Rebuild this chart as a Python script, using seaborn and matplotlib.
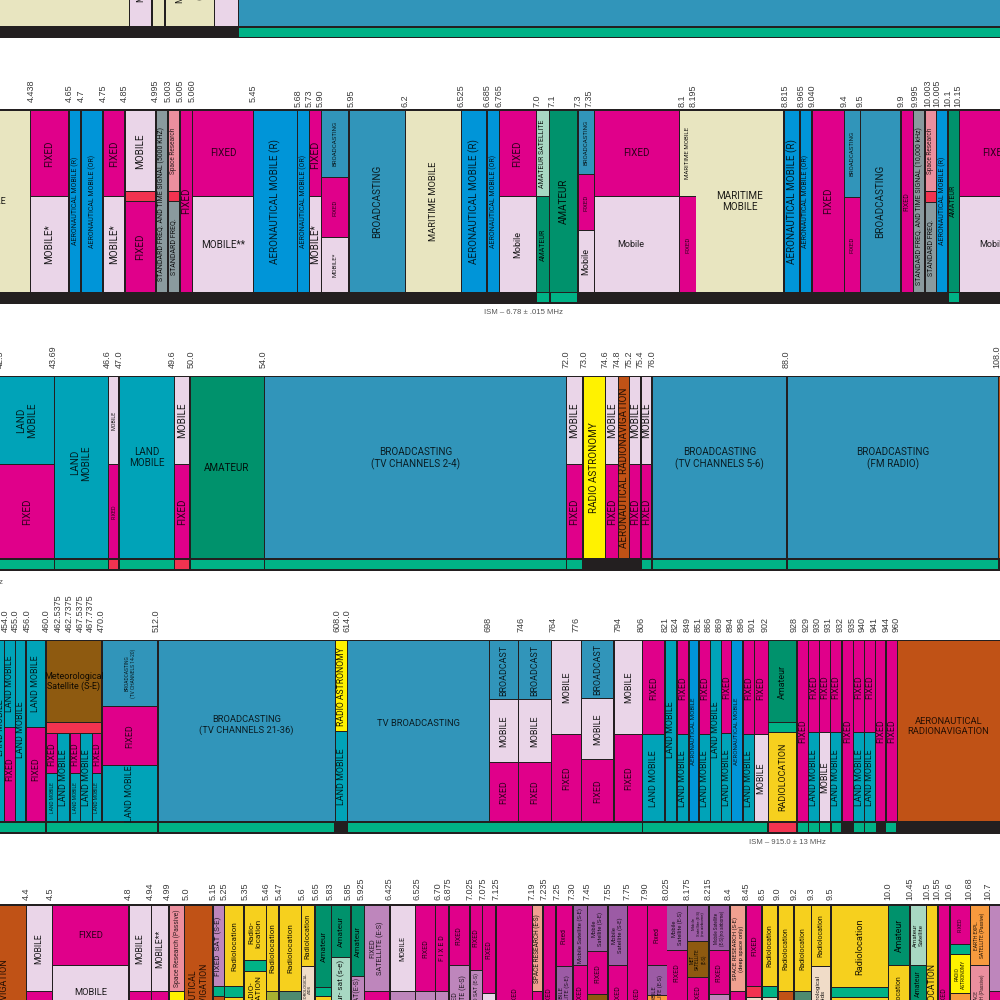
import matplotlib
matplotlib.use("Agg")
import matplotlib.pyplot as plt
import seaborn as sns
import matplotlib.colors as mc

sns.set_theme(style="white")
plt.rcParams['font.family'] = ['Roboto', 'Liberation Sans', 'DejaVu Sans']
TICK_FONT = ['Liberation Sans', 'DejaVu Sans']
SCALE = 0.82

COL = dict(fix='#E0008A', mob='#EAD5E8', aer='#0095D8', mar='#E8E5C0', bro='#3195BA', lan='#00A3B8',
           ama='#00926C', ams='#A8D8C3', grn='#00B286', red='#F23350', gry='#8A9A9E', spr='#EB8F9E',
           rad='#FFF200', nav='#C05216', met='#8E5A10', loc='#F6D01E', fst='#BE86BC', mst='#9C5BA5',
           ora='#F79A3E', sal='#F0A090', tan='#F0DCC8', oli='#A8B030', ggr='#4E8B70', blk='#231F20')

def c(svc, label, end, size=11, rot=90, dx=0, dy=0, top=None):
    return (svc, label, end, size, rot, dx, dy, top)

# ---- band 1 (cropped, only its bottom shows)
band1_cols = [
    (0, 128.5, [c('mar', '', 26)]),
    (130, 151, [c('mob', 'MOBILE', 26, dy=-26, dx=0.5)]),
    (153, 164, [c('mar', '', 26)]),
    (166, 214, [c('mar', 'MARITIME\n\n(GMDSS)', 26, dy=-30, size=11)]),
    (215, 238, [c('mob', '', 26)]),
    (239, 1000, [c('bro', '', 26)]),
]
band1_foot = [(239, 1000, 'grn')]

# ---- band 2: 4.438 - 10.15 MHz
band2_ticks = [31, 69, 81, 103, 124.5, 155.5, 168, 180, 192, 253.5, 298, 309.5, 320.5, 351, 405.5, 461.5, 487, 499,
               536.7, 551.7, 578, 589, 681.7, 692.7, 785, 801, 811.7, 844, 860, 901, 915, 927.7, 936.7, 947.7, 957.7]
band2_labels = ['4.438', '4.65', '4.7', '4.75', '4.85', '4.995', '5.003', '5.005', '5.060', '5.45', '5.68', '5.73', '5.90',
                '5.95', '6.2', '6.525', '6.685', '6.765', '7.0', '7.1', '7.3', '7.35', '8.1', '8.195', '8.815', '8.965',
                '9.040', '9.4', '9.5', '9.9', '9.995', '10.003', '10.005', '10.1', '10.15']
band2_raised = 10
B2 = 196
band2_cols = [
    (0, 29.5, [c('mar', 'MARITIME MOBILE', 291.7, rot=0, dx=-47, size=11)]),
    (31, 68, [c('fix', 'FIXED', B2, size=12), c('mob', 'MOBILE*', 291.7, size=12)]),
    (70, 80, [c('aer', 'AERONAUTICAL MOBILE (R)', 291.7, size=8.6)]),
    (82, 102, [c('aer', 'AERONAUTICAL MOBILE (OR)', 291.7, size=8.6)]),
    (103.5, 124, [c('fix', 'FIXED', B2, size=12), c('mob', 'MOBILE*', 291.7, size=12)]),
    (125.5, 155, [c('mob', 'MOBILE', 191, size=12), c('red', '', 201), c('fix', 'FIXED', 291.7, size=12)]),
    (156.5, 167, [c('gry', 'STANDARD FREQ. AND TIME SIGNAL (5000 KHZ)', 291.7, size=8.6, dy=3)]),
    (168.5, 179, [c('spr', 'Space Research', 191, size=8), c('red', '', 201), c('gry', 'STANDARD FREQ.', 291.7, size=8.5)]),
    (180.5, 191.5, [c('fix', 'FIXED', 291.7, size=12)]),
    (193, 253, [c('fix', 'FIXED', B2, size=12, rot=0), c('mob', 'MOBILE**', 291.7, size=12, rot=0)]),
    (254, 297, [c('aer', 'AERONAUTICAL MOBILE (R)', 291.7, size=12)]),
    (298, 309, [c('aer', 'AERONAUTICAL MOBILE (OR)', 291.7, size=8.6)]),
    (310, 321, [c('fix', 'FIXED', B2, size=13, dy=1), c('mob', 'MOBILE*', 291.7, size=12)]),
    (322, 348, [c('bro', 'BROADCASTING', 177, size=7.5), c('fix', 'FIXED', 237, size=7.5), c('mob', 'MOBILE*', 291.7, size=7.5)]),
    (349.5, 405, [c('bro', 'BROADCASTING', 291.7, size=12)]),
    (406, 461, [c('mar', 'MARITIME MOBILE', 291.7, size=11.5)]),
    (462, 486, [c('aer', 'AERONAUTICAL MOBILE (R)', 291.7, size=12)]),
    (487.5, 499, [c('aer', 'AERONAUTICAL MOBILE (OR)', 291.7, size=8.6)]),
    (499.5, 535.5, [c('fix', 'FIXED', B2, size=12), c('mob', 'Mobile', 291.7, size=11)]),
    (537, 549, [c('ams', 'AMATEUR SATELLITE', B2, size=8.5), c('ama', 'AMATEUR', 291.7, size=8.5)]),
    (550, 577, [c('ama', 'AMATEUR', 291.7, size=12)]),
    (578.5, 593.5, [c('bro', 'BROADCASTING', 174, size=7.5), c('fix', 'FIXED', 230, size=7.5), c('mob', 'Mobile', 291.7, size=11)]),
    (594.5, 679, [c('fix', 'FIXED', B2, size=12, rot=0), c('mob', 'Mobile', 291.7, size=11, rot=0, dx=-6)]),
    (680, 695.5, [c('mar', 'MARITIME MOBILE', B2, size=7.5), c('fix', 'FIXED', 291.7, size=7.5)]),
    (696, 783, [c('mar', 'MARITIME\nMOBILE', 291.7, size=12, rot=0)]),
    (784.5, 799, [c('aer', 'AERONAUTICAL MOBILE (R)', 291.7, size=12)]),
    (800.5, 811, [c('aer', 'AERONAUTICAL MOBILE (OR)', 291.7, size=8.6)]),
    (812.5, 843.5, [c('fix', 'FIXED', 291.7, size=12)]),
    (845, 859.5, [c('bro', 'BROADCASTING', 197, size=7.5), c('fix', 'FIXED', 291.7, size=7.5)]),
    (861, 900, [c('bro', 'BROADCASTING', 291.7, size=12)]),
    (901.5, 913, [c('fix', 'FIXED', 291.7, size=8.5)]),
    (914, 924, [c('gry', 'STANDARD FREQ. AND TIME SIGNAL (10,000 kHz)', 291.7, size=8.6, dy=5)]),
    (925.5, 936, [c('spr', 'Space Research', 191, size=8), c('red', '', 202), c('gry', 'STANDARD FREQ.', 291.7, size=8.5)]),
    (937, 947, [c('aer', 'AERONAUTICAL MOBILE (R)', 291.7, size=8.5)]),
    (948.5, 958.5, [c('ama', 'AMATEUR', 291.7, size=8.5)]),
    (959.5, 1001, [c('fix', 'FIXED', B2, size=12, rot=0, dx=15), c('mob', 'Mobile', 291.7, size=11, rot=0, dx=12)]),
]
band2_foot = [(537, 549, 'grn'), (550.5, 577, 'grn'), (948.5, 958.5, 'grn')]

# ---- band 3: 42 - 108 MHz
band3_ticks = [0, 53, 107.5, 119, 172.7, 190.7, 263.5, 566, 584, 605, 617, 629, 640, 652, 786, 996.7]
band3_labels = ['42.5', '43.69', '46.6', '47.0', '49.6', '50.0', '54.0', '72.0', '73.0', '74.6', '74.8', '75.2', '75.4',
                '76.0', '88.0', '108.0']
B3 = 464
band3_cols = [
    (0, 53.5, [c('lan', 'LAND\nMOBILE', B3, size=12), c('fix', 'FIXED', 558.3, size=12)]),
    (54.5, 107.5, [c('lan', 'LAND\nMOBILE', 558.3, size=12, dy=-5)]),
    (109, 118, [c('mob', 'MOBILE', B3, size=6.5), c('fix', 'FIXED', 558.3, size=6.5)]),
    (120, 173.5, [c('lan', 'LAND\nMOBILE', 558.3, size=12, rot=0, dy=-10)]),
    (175, 189, [c('mob', 'MOBILE', B3, size=12), c('fix', 'FIXED', 558.3, size=12)]),
    (190.5, 263.5, [c('ama', 'AMATEUR', 558.3, size=12, rot=0)]),
    (265, 565.7, [c('bro', 'BROADCASTING\n(TV CHANNELS 2-4)', 558.3, size=12, rot=0, dy=-9)]),
    (567, 582, [c('mob', 'MOBILE', B3, size=12), c('fix', 'FIXED', 558.3, size=12)]),
    (583.5, 604.5, [c('rad', 'RADIO ASTRONOMY', 558.3, size=12)]),
    (606, 617.5, [c('mob', 'MOBILE', B3, size=12), c('fix', 'FIXED', 558.3, size=12)]),
    (619, 628.5, [c('nav', 'AERONAUTICAL RADIONAVIGATION', 558.3, size=12)]),
    (630, 640, [c('mob', 'MOBILE', B3, size=12), c('fix', 'FIXED', 558.3, size=12)]),
    (641.5, 651, [c('mob', 'MOBILE', B3, size=12), c('fix', 'FIXED', 558.3, size=12)]),
    (652.5, 786, [c('bro', 'BROADCASTING\n(TV CHANNELS 5-6)', 558.3, size=12, rot=0, dy=-9)]),
    (787.5, 998, [c('bro', 'BROADCASTING\n(FM RADIO)', 558.3, size=12, rot=0, dy=-9)]),
    (999, 1001, [c('nav', '', 558.3)]),
]
band3_foot = [(0, 53.5, 'grn'), (54.5, 107.5, 'grn'), (109, 118, 'red'), (120, 173.5, 'grn'), (175, 189, 'red'),
              (190.5, 263.5, 'grn'), (265, 565.5, 'grn'), (567, 582, 'grn'), (641.5, 651, 'grn'), (652.5, 786, 'grn'),
              (787.5, 998, 'grn')]

# ---- band 4: 454 - 960 MHz
band4_ticks = [5, 15.7, 27, 46.7, 58, 69, 80, 90.7, 101.7, 155.7, 336.7, 347, 488, 521, 553, 575.7, 618, 640.7, 665, 675,
               687, 697.7, 708, 719, 730, 740.7, 752, 765, 794, 805.7, 816.7, 828, 840, 851.7, 862, 874, 885.7, 896]
band4_labels = ['454.0', '455.0', '456.0', '460.0', '462.5375', '462.7375', '467.5375', '467.7375', '470.0', '512.0',
                '608.0', '614.0', '698', '746', '764', '776', '794', '806', '821', '824', '849', '851', '866', '869',
                '894', '896', '901', '902', '928', '929', '930', '931', '932', '935', '940', '941', '944', '960']
E4 = 821.3
M4 = 734
N4 = 732
LM = 10.8
band4_cols = [
    (0, 4, [c('lan', 'LAND MOBILE', E4, size=LM, dx=-1, dy=-4)]),
    (5, 15, [c('lan', 'LAND MOBILE', 727, size=LM), c('fix', 'FIXED', E4, size=LM, dy=-6)]),
    (16, 25, [c('lan', 'LAND MOBILE', E4, size=LM, dy=-2)]),
    (26.5, 45, [c('lan', 'LAND MOBILE', 727, size=LM), c('fix', 'FIXED', E4, size=LM, dy=-6)]),
    (47, 101, [c('met', 'Meteorological\nSatellite (S-E)', 721.5, size=11, rot=0), c('red', '', 733)]),
    (47, 57, [c('fix', 'FIXED', 773, size=LM), c('lan', 'LAND MOBILE', E4, size=6)], 734.3),
    (58, 69, [c('lan', 'LAND MOBILE', E4, size=LM)], 734.3),
    (70.5, 80, [c('fix', 'FIXED', 773, size=LM), c('lan', 'LAND MOBILE', E4, size=6)], 734.3),
    (81, 92, [c('lan', 'LAND MOBILE', E4, size=LM)], 734.3),
    (93, 101, [c('fix', 'FIXED', 773, size=LM), c('lan', 'LAND MOBILE', E4, size=6)], 734.3),
    (103, 157, [c('bro', 'BROADCASTING\n(TV CHANNELS 14-20)', 705.5, size=6), c('fix', 'FIXED', 764.5, size=LM),
                c('lan', 'LAND MOBILE', E4, size=LM)]),
    (158.5, 334.5, [c('bro', 'BROADCASTING\n(TV CHANNELS 21-36)', E4, size=11.5, rot=0, dy=-6)]),
    (336, 347, [c('rad', 'RADIO ASTRONOMY', 731, size=10.5), c('lan', 'LAND MOBILE', E4, size=LM)]),
    (348, 489, [c('bro', 'TV BROADCASTING', E4, size=11.5, rot=0, dy=-8)]),
    (490, 518, [c('bro', 'BROADCAST', 699, size=LM), c('mob', 'MOBILE', 762, size=LM), c('fix', 'FIXED', E4, size=LM)]),
    (519, 551, [c('bro', 'BROADCAST', 699, size=LM), c('mob', 'MOBILE', 762, size=LM), c('fix', 'FIXED', E4, size=LM)]),
    (552, 580.5, [c('mob', 'MOBILE', M4, size=LM), c('fix', 'FIXED', E4, size=LM)]),
    (582, 613, [c('bro', 'BROADCAST', 698, size=LM), c('mob', 'MOBILE', 759, size=LM), c('fix', 'FIXED', E4, size=LM)]),
    (614.5, 642, [c('mob', 'MOBILE', M4, size=LM), c('fix', 'FIXED', E4, size=LM)]),
    (643, 664, [c('fix', 'FIXED', M4, size=LM), c('lan', 'LAND MOBILE', E4, size=LM)]),
    (665.5, 676, [c('lan', 'LAND MOBILE', E4, size=LM, dy=-2)]),
    (677.5, 688, [c('fix', 'FIXED', M4, size=LM), c('lan', 'LAND MOBILE', E4, size=LM)]),
    (689.5, 698, [c('aer', 'AERONAUTICAL MOBILE', E4, size=7.5)]),
    (699.5, 709.5, [c('fix', 'FIXED', M4, size=LM), c('lan', 'LAND MOBILE', E4, size=LM)]),
    (711, 720.5, [c('lan', 'LAND MOBILE', E4, size=LM, dy=-2)]),
    (722, 730.5, [c('fix', 'FIXED', 733, size=LM), c('lan', 'LAND MOBILE', E4, size=LM)]),
    (732, 742, [c('aer', 'AERONAUTICAL MOBILE', E4, size=7.5)]),
    (743.5, 754, [c('fix', 'FIXED', M4, size=LM), c('lan', 'LAND MOBILE', E4, size=LM)]),
    (755, 767.5, [c('fix', 'FIXED', M4, size=LM), c('mob', 'MOBILE', E4, size=LM)]),
    (768.5, 796, [c('ama', 'Amateur', 722, size=LM), c('grn', '', 732), c('loc', 'RADIOLOCATION', E4, size=LM)]),
    (797.5, 808, [c('fix', 'FIXED', E4, size=LM)]),
    (808.5, 818.5, [c('fix', 'FIXED', N4, size=LM), c('lan', 'LAND MOBILE', E4, size=LM)]),
    (820, 830, [c('fix', 'FIXED', N4, size=LM), c('mob', 'MOBILE', E4, size=LM)]),
    (831, 841, [c('fix', 'FIXED', N4, size=LM), c('lan', 'LAND MOBILE', E4, size=LM)]),
    (842.5, 852.5, [c('fix', 'FIXED', E4, size=LM)]),
    (854, 864, [c('fix', 'FIXED', N4, size=LM), c('lan', 'LAND MOBILE', E4, size=LM)]),
    (865, 875, [c('fix', 'FIXED', N4, size=LM), c('lan', 'LAND MOBILE', E4, size=LM)]),
    (876, 885, [c('fix', 'FIXED', E4, size=LM)]),
    (887, 896.5, [c('fix', 'FIXED', E4, size=LM)]),
    (898, 1001, [c('nav', 'AERONAUTICAL\nRADIONAVIGATION', E4, size=11.5, rot=0, dy=-5, dx=-1)]),
]
band4_foot = [(0, 45, 'grn'), (47, 157, 'grn'), (159, 334, 'grn'), (348, 641.7, 'grn'), (643, 767, 'grn'), (768.5, 796, 'red'),
              (797.5, 807.5, 'grn'), (808.5, 818.5, 'grn'), (820, 830, 'grn'), (831.5, 841, 'grn'), (854, 864, 'grn'),
              (865, 875.5, 'grn'), (886, 896, 'grn')]

# ---- band 5: 4.4 - 10.7 GHz
band5_ticks = [26.7, 50.7, 128, 150, 167.7, 185.7, 213, 224, 245, 265.7, 279, 301.7, 316, 330, 348, 360.7, 389, 416.7, 437.7,
               448, 470, 482.7, 495.7, 531.7, 544, 556.7, 572, 586.7, 608, 626.7, 645, 666, 687, 707.7, 728, 745.7, 761.7,
               777, 794, 811, 830, 887.7, 910, 926.7, 937, 949, 969, 988]
band5_labels = ['4.4', '4.5', '4.8', '4.94', '4.99', '5.0', '5.15', '5.25', '5.35', '5.46', '5.47', '5.6', '5.65', '5.83',
                '5.85', '5.925', '6.425', '6.525', '6.70', '6.875', '7.025', '7.075', '7.125', '7.19', '7.235', '7.25',
                '7.30', '7.45', '7.55', '7.75', '7.90', '8.025', '8.175', '8.215', '8.4', '8.45', '8.5', '9.0', '9.2',
                '9.3', '9.5', '10.0', '10.45', '10.5', '10.55', '10.6', '10.68', '10.7']
E5 = 1003
R5 = 9.9
band5_cols = [
    (0, 26, [c('nav', 'RADIONAVIGATION', E5, size=11, dx=-9, top=958)]),
    (27, 51.5, [c('mob', 'MOBILE', 991, size=10.6), c('fix', '', E5)]),
    (53, 128, [c('fix', 'FIXED', 965, size=11.5, rot=0), c('mob', 'MOBILE', 1019, size=11.5, rot=0)]),
    (129.5, 150.5, [c('mob', 'MOBILE', 991, size=10.6), c('fix', '', E5)]),
    (152, 168, [c('mob', 'MOBILE**', 991, size=10.6), c('fix', '', E5)]),
    (170, 183.5, [c('spr', 'Space Research (Passive)', 991, size=8.2), c('rad', '', E5)]),
    (185, 212, [c('nav', 'AERONAUTICAL\nRADIONAVIGATION', E5, size=10.6, top=963)]),
    (213.5, 223.5, [c('fst', 'FIXED  SAT (S-E)', 986, size=10), c('grn', '', 996), c('nav', '', E5)]),
    (225, 243, [c('loc', 'Radiolocation', 986, size=R5), c('grn', '', 997), c('loc', '', E5)]),
    (244.5, 265.5, [c('loc', 'Radio-\nlocation', 960, size=R5), c('grn', '', 971), c('loc', 'RADIO-\nLOCATION', E5, size=R5, top=975)]),
    (267, 277.5, [c('loc', 'Radiolocation', 991, size=R5), c('oli', '', E5)]),
    (279.5, 301, [c('loc', 'Radiolocation', 991, size=R5), c('ggr', '', E5)]),
    (302, 314, [c('loc', 'Radiolocation', 966, size=9), c('tan', 'METEOROLOGICAL\nAIDS', E5, size=5, top=972)]),
    (316, 331, [c('ama', 'Amateur', 987, size=R5), c('grn', '', 996), c('loc', '', E5)]),
    (332, 350, [c('ama', 'Amateur', 957, size=R5), c('ams', 'Amateur- sat (s-e)', E5, size=R5, top=960)]),
    (351.5, 363.5, [c('ama', 'Amateur', 976, size=R5), c('fst', 'FIXED SAT(E-S)', E5, size=8.5, top=978)]),
    (365, 389, [c('fst', 'FIXED\nSATELLITE (E-S)', 991, size=9), c('fix', '', E5)]),
    (390.5, 415, [c('mob', 'MOBILE', 991, size=8.6), c('fst', '', E5)]),
    (416, 435, [c('fix', 'FIXED', 991, size=8.6), c('fst', '', E5)]),
    (436, 448, [c('fix', 'F I X E D', 991, size=8.6), c('fst', '', E5)]),
    (449.5, 469, [c('fix', 'FIXED', 965, size=8.6), c('fst', 'FIXED\nSATELLITE (E-S)', E5, size=8.6, top=975)]),
    (470.5, 482, [c('fix', 'FIXED', 970, size=8.6), c('fst', 'FIXED SAT (E-S)', E5, size=6.5, top=973)]),
    (483, 495, [c('fix', 'FIXED', 993, size=8.6), c('mob', '', E5)]),
    (497, 532, [c('fix', 'FIXED', E5, size=8.6, top=987)]),
    (533, 542, [c('sal', 'SPACE RESEARCH (E-S)', 991, size=8), c('fix', '', E5)]),
    (543.5, 555, [c('fix', 'FIXED', E5, size=8.6, top=987)]),
    (556.5, 572, [c('fix', 'Fixed', 966, size=8.2), c('mst', 'MOBILE\nSATELLITE (S-E)', E5, size=7.2, top=975)]),
    (573.5, 586.5, [c('mst', 'Mobile Satellite (S-E)', 965, size=7.2), c('fix', 'FIXED', E5, size=8.6, top=985)]),
    (588, 607, [c('mst', 'Mobile\nSatellite (S-E)', 951, size=7), c('fix', 'FIXED', 994, size=8.6), c('met', '', E5)]),
    (608.5, 626.5, [c('mst', 'Mobile\nSatellite (S-E)', 965, size=7.2), c('fix', 'FIXED', E5, size=8.6, top=985)]),
    (627.5, 646.5, [c('fix', 'FIXED', E5, size=8.6, top=987)]),
    (647.5, 666.5, [c('fix', 'Fixed', 965, size=8.2), c('mst', 'MOBILE\nSATELLITE (E-S)', 995, size=7, top=975), c('ora', '', E5)]),
    (667, 687, [c('mst', 'Mobile\nSatellite (E-S)', 950, size=7), c('fix', 'FIXED', E5, size=8.6, top=963)]),
    (688, 708, [c('mst', 'Mobile\nSatellite (E-S)\n(no airborne)', 941, size=5.2), c('met', 'MET\nSATELLITE\n(E-S)', 977, size=5.5),
                c('fix', 'FIXED', E5, size=8.6, top=985)]),
    (709.5, 729, [c('mst', 'Mobile Satellite\n(E-S)(no airborne)', 950, size=5.5), c('fix', 'FIXED', 994, size=8.6), c('fst', '', E5)]),
    (731, 745, [c('sal', 'SPACE RESEARCH (S-E)\n(deep space only)', 991, size=7.2), c('fix', '', E5)]),
    (747, 761, [c('fix', 'FIXED', 986, size=9.5), c('red', '', 997), c('tan', '', E5)]),
    (762.5, 777, [c('loc', 'Radiolocation', 986, size=8.5), c('grn', '', 997), c('tan', '', E5)]),
    (778.5, 793, [c('loc', 'Radiolocation', 991, size=8.5), c('nav', '', E5)]),
    (794.5, 811, [c('loc', 'Radiolocation', 991, size=8.5), c('ggr', '', E5)]),
    (812, 830, [c('loc', 'Radiolocation', 966, size=8.5), c('tan', 'Meteorological\nAids', E5, size=7.5, top=975)]),
    (831.5, 888, [c('loc', 'Radiolocation', 987, size=11.5), c('grn', '', 997), c('loc', '', E5)]),
    (889, 909, [c('ama', 'Amateur', 965, size=10.6), c('loc', 'Radiolocation', E5, size=8.5, top=975)]),
    (910.5, 925.5, [c('ams', 'Amateur\nSatellite', 965, size=7.5), c('ama', 'Amateur', E5, size=8.5, top=970)]),
    (927, 937, [c('loc', 'RADIOLOCATION', E5, size=10.6, top=963)]),
    (938.5, 949, [c('fix', 'FIXED', E5, size=8.6, top=987)]),
    (950.5, 970, [c('fix', 'FIXED', 944, size=6.5), c('grn', '', 954), c('rad', 'RADIO\nASTRONOMY', 993, size=6), c('ora', '', E5)]),
    (971, 988.5, [c('ora', 'EARTH EXPL.\nSATELLITE (Passive)', 965, size=6), c('spr', 'SPACE\nRESEARCH (Passive)', E5, size=6, top=975)]),
    (990, 1001, [c('fst', '', 991), c('fix', '', E5)]),
]

FIG = 1000.0
fig = plt.figure(figsize=(10, 10), dpi=100, facecolor='white')

def text_color(svc):
    rgb = mc.to_rgb(COL[svc])
    keep = 0.2 if svc in ('fix', 'aer', 'lan', 'bro', 'spr', 'nav', 'mst', 'fst') else 0.12
    return tuple(v * keep for v in rgb)

def draw_band(top, bottom, first, foot_top, foot_end, cols, foot, ticks=None, labels=None, pad=3, raised=0):
    ax = fig.add_axes([0, 1 - bottom / FIG, 1, (bottom - top) / FIG])
    ax.set_xlim(0, 1000)
    ax.set_ylim(bottom, top)
    ax.set_facecolor(COL['blk'])
    for s in ax.spines.values():
        s.set_visible(False)
    ax.set_yticks([])
    if ticks:
        ax.xaxis.tick_top()
        ax.set_xticks(ticks, labels, rotation=90, fontsize=6.5, color='#3c3c3c', family=TICK_FONT)
        ax.tick_params(axis='x', length=0, pad=pad * 0.72)
        for i, t in enumerate(ax.xaxis.get_major_ticks()):
            if i < raised:
                t.set_pad((pad + 5) * 0.72)
    else:
        ax.set_xticks([])
    for col in cols:
        x0, x1, stack = col[:3]
        y = col[3] if len(col) > 3 else first
        for svc, label, end, size, rot, dx, dy, ttop in stack:
            ax.bar(x0, end - y, width=x1 - x0, bottom=y, align='edge', color=COL[svc], linewidth=0)
            if label:
                ty = ttop if ttop is not None else (y + end) / 2 + dy
                ax.text((x0 + x1) / 2 + dx, ty, label, rotation=rot, ha='center',
                        va='top' if ttop is not None else 'center',
                        fontsize=size * SCALE * 0.72, color=text_color(svc), linespacing=1.15, clip_on=False)
            y = end + 1.3
    for x0, x1, svc in foot:
        ax.bar(x0, foot_end - foot_top, width=x1 - x0, bottom=foot_top, align='edge', color=COL[svc], linewidth=0)
    return ax

ax1 = draw_band(-2, 38, -2, 27.7, 36.7, band1_cols, band1_foot)
ax2 = draw_band(109, 303.5, 110.7, 293.3, 301.7, band2_cols, band2_foot, band2_ticks, band2_labels, pad=2, raised=band2_raised)
ax3 = draw_band(376, 570.7, 377.3, 560, 569.3, band3_cols, band3_foot, band3_ticks, band3_labels, pad=8)
ax4 = draw_band(640, 834, 641.3, 822.7, 832.3, band4_cols, band4_foot, band4_ticks, band4_labels, pad=8)
ax5 = draw_band(904.3, 1003, 906, 1001, 1003, band5_cols, [], band5_ticks, band5_labels, pad=4)

fig.text(524 / FIG, 1 - 313 / FIG, 'ISM – 6.78 ± .015 MHz', ha='center', va='center', fontsize=5.6, color='#555555', family=TICK_FONT)
fig.text(787 / FIG, 1 - 843 / FIG, 'ISM – 915.0 ± 13 MHz', ha='center', va='center', fontsize=5.6, color='#555555', family=TICK_FONT)
fig.text(3 / FIG, 1 - 582 / FIG, 'ISM – 40.68 ± .02 MHz', ha='right', va='center', fontsize=5.6, color='#555555', family=TICK_FONT)

fig.savefig('out.png', dpi=100)
